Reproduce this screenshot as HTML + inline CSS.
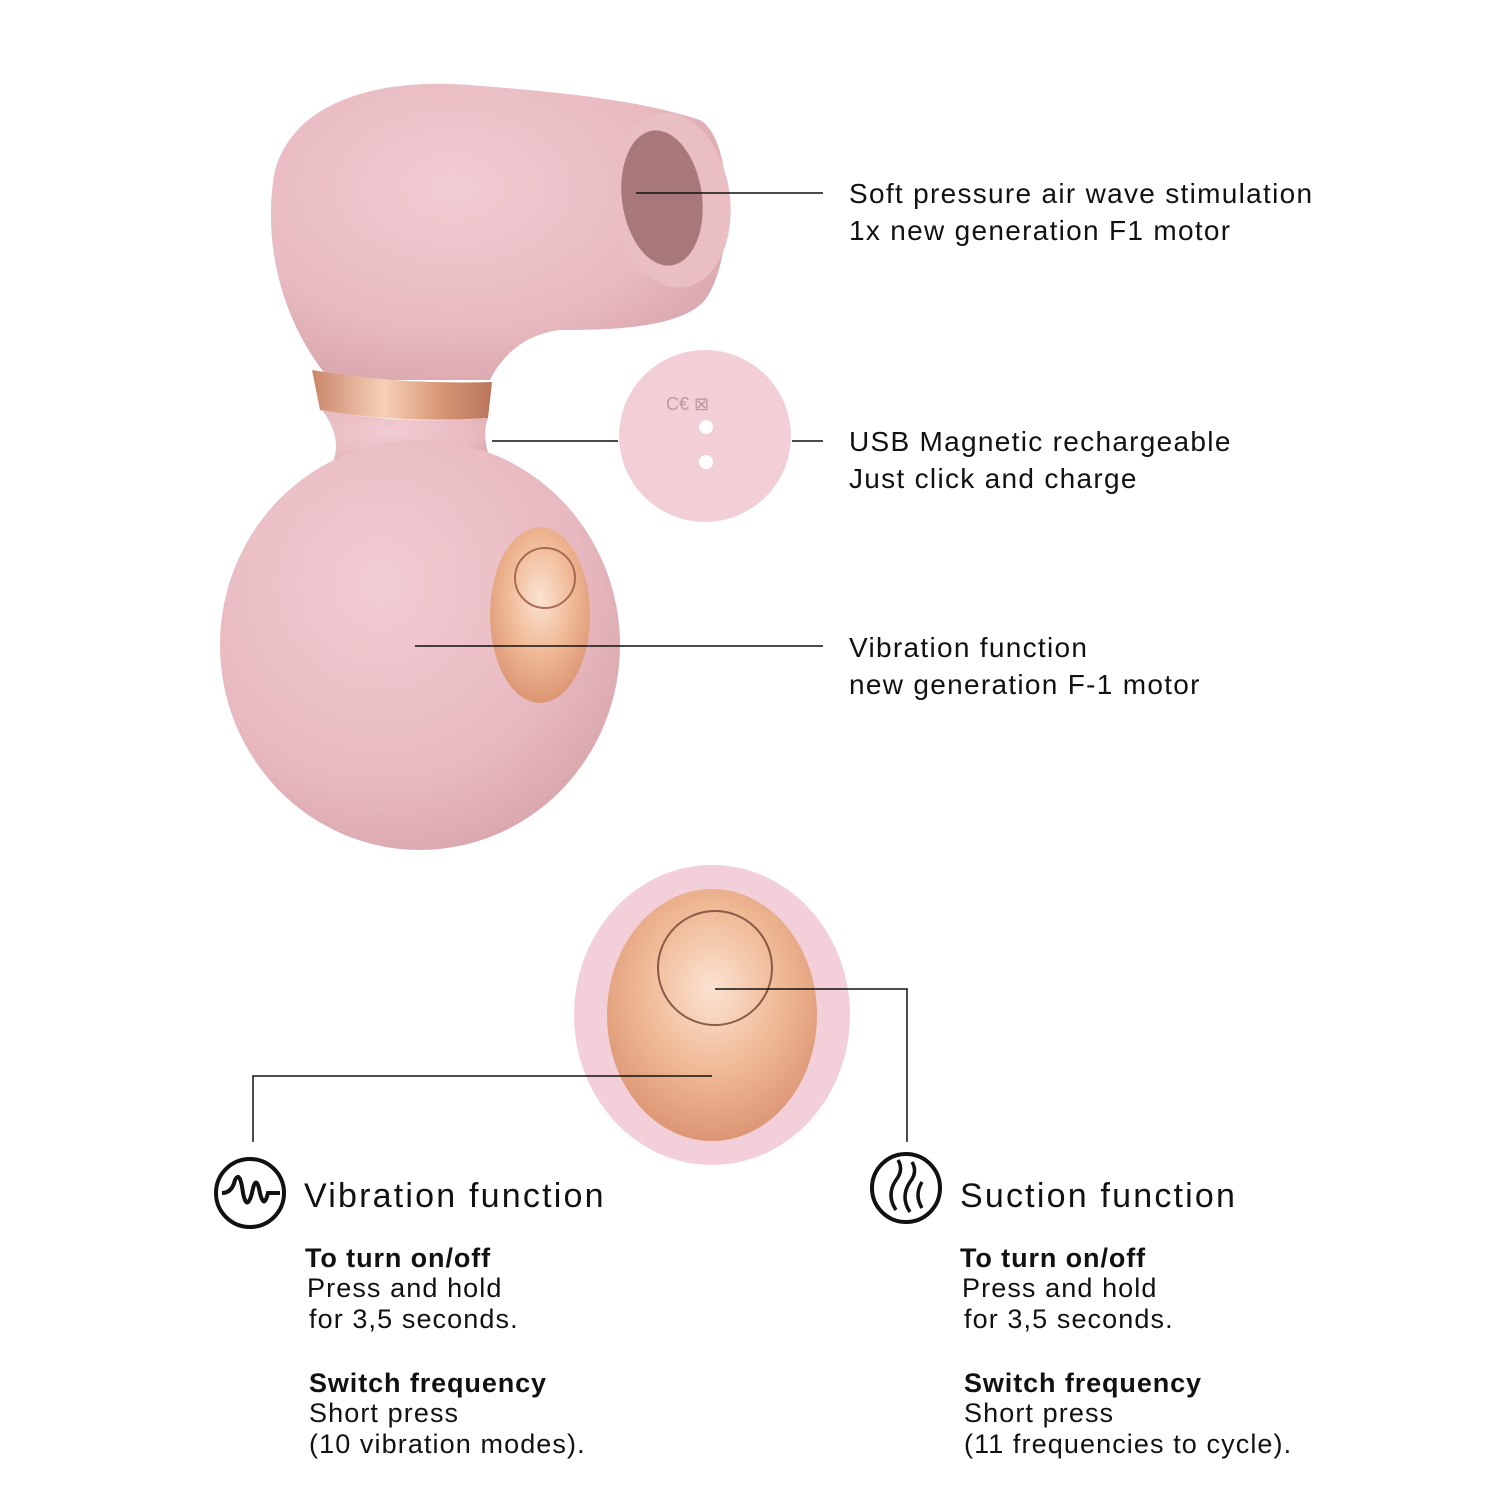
<!DOCTYPE html>
<html><head><meta charset="utf-8"><style>
html,body{margin:0;padding:0;background:#fff;}
svg{display:block}
text{font-family:"Liberation Sans","DejaVu Sans",sans-serif;fill:#111;}
</style></head><body>
<svg width="1500" height="1500" viewBox="0 0 1500 1500" xmlns="http://www.w3.org/2000/svg">
<defs>
<radialGradient id="pk" cx="40%" cy="35%" r="70%"><stop offset="0" stop-color="#f1cdd3"/><stop offset="0.7" stop-color="#e8b9c0"/><stop offset="1" stop-color="#d9a6ad"/></radialGradient>
<radialGradient id="gd" cx="50%" cy="40%" r="65%"><stop offset="0" stop-color="#fbe3d2"/><stop offset="0.5" stop-color="#f0b995"/><stop offset="1" stop-color="#d8906e"/></radialGradient>
<linearGradient id="band" x1="0" x2="1"><stop offset="0" stop-color="#c9866a"/><stop offset="0.4" stop-color="#f6d0b8"/><stop offset="0.7" stop-color="#d99878"/><stop offset="1" stop-color="#b9745a"/></linearGradient>
</defs>
<path d="M330 380 C280 320 262 240 275 170 C295 100 380 78 470 85 C560 92 640 100 700 120 C735 140 735 260 705 300 C680 330 600 330 560 330 C520 335 500 360 490 380 Z" fill="url(#pk)"/>
<ellipse cx="672" cy="200" rx="58" ry="88" fill="#e9bfc4" transform="rotate(-8 672 200)"/>
<ellipse cx="662" cy="198" rx="40" ry="68" fill="#a8787a" transform="rotate(-8 662 198)"/>
<path d="M312 370 Q400 385 492 382 L488 418 Q400 424 320 410 Z" fill="url(#band)"/>
<path d="M322 410 Q400 425 488 418 Q480 440 495 470 L330 470 Q345 440 322 410 Z" fill="url(#pk)"/>
<ellipse cx="420" cy="645" rx="200" ry="205" fill="url(#pk)"/>
<ellipse cx="540" cy="615" rx="50" ry="88" fill="url(#gd)"/>
<circle cx="545" cy="578" r="30" fill="none" stroke="#a86a52" stroke-width="2"/>
<circle cx="705" cy="436" r="86" fill="#f2cfd6"/>
<text x="666" y="410" font-size="18" style="fill:#b99aa0">C€ ⊠</text>
<circle cx="706" cy="427" r="7" fill="#fff"/>
<circle cx="706" cy="462" r="7" fill="#fff"/>
<ellipse cx="712" cy="1015" rx="138" ry="150" fill="#f3d0d9"/>
<ellipse cx="712" cy="1015" rx="105" ry="126" fill="url(#gd)"/>
<circle cx="715" cy="968" r="57" fill="none" stroke="#8a5a48" stroke-width="2"/>
<g stroke="#111" stroke-width="1.5" fill="none">
<line x1="636" y1="193" x2="823" y2="193"/>
<line x1="492" y1="441" x2="618" y2="441"/>
<line x1="792" y1="441" x2="823" y2="441"/>
<line x1="415" y1="646" x2="823" y2="646"/>
<polyline points="712,1076 253,1076 253,1142"/>
<polyline points="715,989 907,989 907,1142"/>
</g>
<g font-size="28" letter-spacing="1.3">
<text x="849" y="203">Soft pressure air wave stimulation</text>
<text x="849" y="240">1x new generation F1 motor</text>
<text x="849" y="451">USB Magnetic rechargeable</text>
<text x="849" y="488">Just click and charge</text>
<text x="849" y="657">Vibration function</text>
<text x="849" y="694">new generation F-1 motor</text>
</g>
<circle cx="250" cy="1193" r="34" fill="none" stroke="#111" stroke-width="4"/>
<path d="M222 1193 Q232 1193 235 1180 Q240 1170 243 1193 Q247 1212 252 1193 Q256 1172 260 1193 Q264 1210 268 1193 L280 1193" fill="none" stroke="#111" stroke-width="4"/>
<circle cx="906" cy="1188" r="34" fill="none" stroke="#111" stroke-width="4"/>
<path d="M896 1210 Q886 1195 896 1180 Q904 1170 898 1160 M910 1212 Q900 1197 910 1182 Q918 1172 912 1162 M922 1208 Q914 1195 922 1182" fill="none" stroke="#111" stroke-width="3.5"/>
<g font-size="34" letter-spacing="2.2">
<text x="304" y="1207">Vibration function</text>
<text x="960" y="1207">Suction function</text>
</g>
<g font-size="27" letter-spacing="1.1">
<text x="305" y="1267" font-weight="bold" letter-spacing="0.9">To turn on/off</text>
<text x="307" y="1297">Press and hold</text>
<text x="309" y="1328">for 3,5 seconds.</text>
<text x="309" y="1392" font-weight="bold" letter-spacing="0.9">Switch frequency</text>
<text x="309" y="1422">Short press</text>
<text x="309" y="1453">(10 vibration modes).</text>
<text x="960" y="1267" font-weight="bold" letter-spacing="0.9">To turn on/off</text>
<text x="962" y="1297">Press and hold</text>
<text x="964" y="1328">for 3,5 seconds.</text>
<text x="964" y="1392" font-weight="bold" letter-spacing="0.9">Switch frequency</text>
<text x="964" y="1422">Short press</text>
<text x="964" y="1453">(11 frequencies to cycle).</text>
</g>
</svg>
</body></html>
